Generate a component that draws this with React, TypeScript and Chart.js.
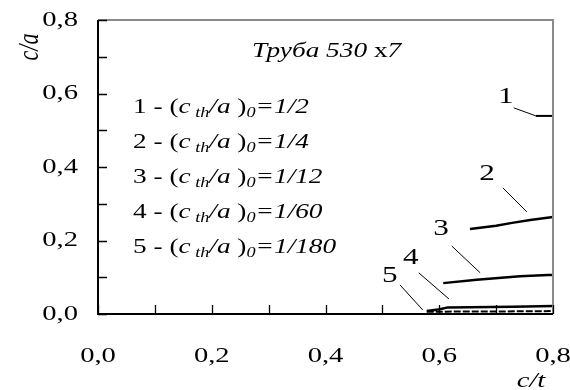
import { useEffect, useRef } from "react";
import { Chart, registerables } from "chart.js";
Chart.register(...registerables);

// ---- data ----
const xMinorTicks = [0, 0.1, 0.2, 0.3, 0.4, 0.5, 0.6, 0.7, 0.8];
const yMinorTicks = [0, 0.1, 0.2, 0.3, 0.4, 0.5, 0.6, 0.7, 0.8];

const curve1X = [0.77, 0.8];
const curve1Y = [0.539, 0.539];
const curve2X = [0.654, 0.7, 0.728, 0.76, 0.8];
const curve2Y = [0.231, 0.24, 0.248, 0.256, 0.264];
const curve3X = [0.607, 0.666, 0.742, 0.791, 0.8];
const curve3Y = [0.084, 0.093, 0.103, 0.106, 0.106];
const curve4X = [0.578, 0.601, 0.615, 0.73, 0.8];
const curve4Y = [0.008, 0.013, 0.018, 0.02, 0.022];
const curve5X = [0.578, 0.65, 0.72, 0.8];
const curve5Y = [0.006, 0.007, 0.007, 0.008];

const curveLabels = ["1", "2", "3", "4", "5"];
const labelX = [0.717, 0.684, 0.603, 0.55, 0.513];
const labelY = [0.59, 0.381, 0.231, 0.152, 0.103];
const leaderX1 = [0.731, 0.712, 0.622, 0.564, 0.531];
const leaderY1 = [0.561, 0.343, 0.185, 0.112, 0.079];
const leaderX2 = [0.77, 0.754, 0.672, 0.617, 0.571];
const leaderY2 = [0.539, 0.278, 0.112, 0.041, 0.011];

const legendFractions = ["1/2", "1/4", "1/12", "1/60", "1/180"];
const titleText = "Труба 530";
const xTitle = "c/t";
const yTitle = "c/a";

const SERIF = "'Liberation Serif', 'Times New Roman', serif";
const SX = 1.3; // horizontal stretch of the original figure's text

function pts(xs: number[], ys: number[]) {
  return xs.map((x, i) => ({ x, y: ys[i] }));
}

function textW(ctx: CanvasRenderingContext2D, t: string, f: string) {
  ctx.font = f;
  return ctx.measureText(t).width * SX;
}

function drawText(ctx: CanvasRenderingContext2D, t: string, f: string, x: number, y: number, align: "left" | "center" | "right") {
  const w = textW(ctx, t, f);
  let sx = x;
  if (align === "center") sx = x - w / 2;
  if (align === "right") sx = x - w;
  ctx.save();
  ctx.font = f;
  ctx.textAlign = "left";
  ctx.translate(sx, y);
  ctx.scale(SX, 1);
  ctx.fillText(t, 0, 0);
  ctx.restore();
}

function drawSegments(ctx: CanvasRenderingContext2D, x: number, y: number, segs: { t: string; f: string; dy?: number }[]) {
  let cx = x;
  for (const s of segs) {
    drawText(ctx, s.t, s.f, cx, y + (s.dy || 0), "left");
    cx += textW(ctx, s.t, s.f);
  }
}

const fmt = (v: number) => v.toFixed(1).replace(".", ",");

const decorPlugin = {
  id: "decor",
  afterDraw(chart: any) {
    const ctx = chart.ctx as CanvasRenderingContext2D;
    const { left, right, top, bottom } = chart.chartArea;
    const xs = chart.scales.x;
    const ys = chart.scales.y;
    ctx.save();
    // top & right border (grey)
    ctx.strokeStyle = "#8a8a8a";
    ctx.lineWidth = 2;
    ctx.beginPath();
    ctx.moveTo(left, top);
    ctx.lineTo(right, top);
    ctx.lineTo(right, bottom);
    ctx.stroke();
    // inward ticks
    ctx.strokeStyle = "#000";
    ctx.lineWidth = 1.3;
    ctx.beginPath();
    for (const v of xMinorTicks) {
      const px = Math.round(xs.getPixelForValue(v)) + 0.5;
      ctx.moveTo(px, bottom);
      ctx.lineTo(px, bottom - 9);
    }
    for (const v of yMinorTicks) {
      const py = Math.round(ys.getPixelForValue(v)) + 0.5;
      ctx.moveTo(left, py);
      ctx.lineTo(left + 9, py);
    }
    ctx.stroke();
    // axes left & bottom
    ctx.lineWidth = 2;
    ctx.beginPath();
    ctx.moveTo(left, top);
    ctx.lineTo(left, bottom);
    ctx.lineTo(right, bottom);
    ctx.stroke();

    ctx.fillStyle = "#000";
    ctx.textBaseline = "middle";
    // tick labels from the library's ticks
    const tickFont = `22px ${SERIF}`;
    for (const t of xs.ticks) {
      drawText(ctx, fmt(t.value), tickFont, xs.getPixelForValue(t.value), bottom + 42, "center");
    }
    for (const t of ys.ticks) {
      drawText(ctx, fmt(t.value), tickFont, left - 20, ys.getPixelForValue(t.value), "right");
    }

    // leader lines & curve numbers
    ctx.lineWidth = 1;
    for (let i = 0; i < curveLabels.length; i++) {
      ctx.beginPath();
      ctx.moveTo(xs.getPixelForValue(leaderX1[i]), ys.getPixelForValue(leaderY1[i]));
      ctx.lineTo(xs.getPixelForValue(leaderX2[i]), ys.getPixelForValue(leaderY2[i]));
      ctx.stroke();
      drawText(ctx, curveLabels[i], `24px ${SERIF}`, xs.getPixelForValue(labelX[i]), ys.getPixelForValue(labelY[i]), "center");
    }

    // title
    ctx.textBaseline = "alphabetic";
    drawSegments(ctx, left + 154, top + 37, [
      { t: titleText, f: `italic 21px ${SERIF}` },
      { t: " x", f: `21px ${SERIF}` },
      { t: "7", f: `italic 21px ${SERIF}` },
    ]);

    // legend rows
    for (let i = 0; i < legendFractions.length; i++) {
      const by = top + 93 + i * 35;
      drawSegments(ctx, left + 35, by, [
        { t: `${i + 1} - (`, f: `21px ${SERIF}` },
        { t: "c", f: `italic 21px ${SERIF}` },
        { t: " th", f: `italic 14px ${SERIF}`, dy: 4 },
        { t: "/a", f: `italic 21px ${SERIF}` },
        { t: " )", f: `21px ${SERIF}` },
        { t: "0", f: `italic 14px ${SERIF}`, dy: 4 },
        { t: "=" + legendFractions[i], f: `italic 21px ${SERIF}` },
      ]);
    }

    // axis titles
    ctx.textBaseline = "middle";
    drawText(ctx, xTitle, `italic 22px ${SERIF}`, right - 22, bottom + 67, "center");
    ctx.save();
    ctx.translate(left - 68, top + 27);
    ctx.rotate(-Math.PI / 2);
    ctx.scale(1, SX);
    ctx.font = `italic 22px ${SERIF}`;
    ctx.textAlign = "center";
    ctx.fillText(yTitle, 0, 0);
    ctx.restore();

    ctx.restore();
  },
};

export default function App() {
  const ref = useRef<HTMLCanvasElement | null>(null);
  useEffect(() => {
    if (!ref.current) return;
    const base = { showLine: true, borderColor: "#000", pointRadius: 0, fill: false, tension: 0 };
    const chart = new Chart(ref.current, {
      type: "scatter",
      data: {
        datasets: [
          { ...base, data: pts(curve1X, curve1Y), borderWidth: 2 },
          { ...base, data: pts(curve2X, curve2Y), borderWidth: 2.5 },
          { ...base, data: pts(curve3X, curve3Y), borderWidth: 2.5 },
          { ...base, data: pts(curve4X, curve4Y), borderWidth: 2.5 },
          { ...base, data: pts(curve5X, curve5Y), borderWidth: 2, borderDash: [7, 2] },
        ],
      },
      options: {
        responsive: false,
        animation: false,
        events: [],
        layout: { padding: { top: 20, right: 17, left: 0, bottom: 0 } },
        plugins: { legend: { display: false }, tooltip: { enabled: false } },
        scales: {
          x: {
            type: "linear",
            min: 0,
            max: 0.8,
            grid: { display: false, drawTicks: false },
            border: { display: false },
            ticks: { stepSize: 0.2, display: false },
            afterFit: (s: any) => {
              s.height = 76;
              s.paddingLeft = 0;
              s.paddingRight = 0;
            },
          },
          y: {
            type: "linear",
            min: 0,
            max: 0.8,
            grid: { display: false, drawTicks: false },
            border: { display: false },
            ticks: { stepSize: 0.2, display: false },
            afterFit: (s: any) => {
              s.width = 98;
              s.paddingTop = 0;
              s.paddingBottom = 0;
            },
          },
        },
      },
      plugins: [decorPlugin],
    } as any);
    return () => chart.destroy();
  }, []);
  return (
    <canvas
      ref={ref}
      width={570}
      height={390}
      style={{ position: "absolute", left: 0, top: 0, width: 570, height: 390, background: "#fff" }}
    />
  );
}
